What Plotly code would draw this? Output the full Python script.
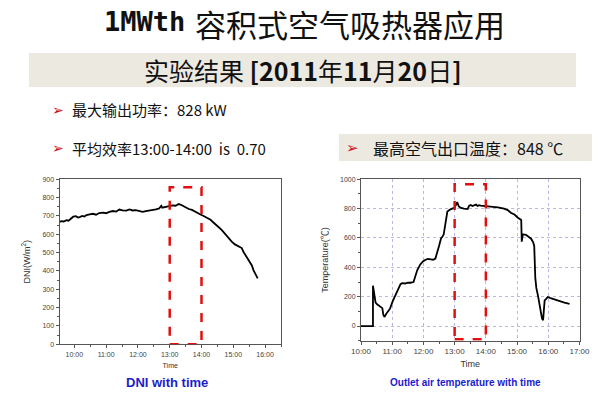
import plotly.graph_objects as go

DAY = "2011-11-20 "

# ---------------- Data ----------------
dni_times = ["09:32", "09:36", "09:40", "09:45", "09:49", "09:53", "09:58", "10:03", "10:07", "10:10",
             "10:15", "10:19", "10:23", "10:29", "10:35", "10:41", "10:47", "10:54", "11:00", "11:06",
             "11:13", "11:19", "11:25", "11:31", "11:38", "11:44", "11:50", "11:56", "12:02", "12:09",
             "12:15", "12:21", "12:27", "12:34", "12:40", "12:44", "12:46", "12:51", "12:56", "13:01",
             "13:05", "13:11", "13:17", "13:22", "13:27", "13:32", "13:36", "13:42", "13:49", "13:54",
             "13:58", "14:04", "14:11", "14:17", "14:23", "14:28", "14:32", "14:38", "14:45", "14:51",
             "14:57", "15:03", "15:10", "15:13", "15:16", "15:19", "15:22", "15:26", "15:30", "15:35",
             "15:38", "15:41", "15:44", "15:46"]
dni_values = [668, 672, 670, 677, 674, 683, 696, 699, 692, 694,
              700, 697, 705, 709, 712, 707, 716, 718, 715, 722,
              727, 724, 735, 731, 729, 736, 730, 732, 728, 722,
              726, 728, 733, 736, 741, 755, 745, 748, 750, 754,
              758, 756, 765, 760, 752, 747, 738, 733, 724, 716,
              708, 700, 690, 679, 663, 652, 640, 624, 600, 583,
              560, 545, 532, 528, 525, 505, 490, 470, 450, 430,
              405, 385, 372, 360]

temp_times = ["10:00", "10:23", "10:23", "10:25", "10:28", "10:31", "10:34", "10:38", "10:41", "10:43",
              "10:45", "10:48", "10:52", "10:56", "11:01", "11:06", "11:09", "11:12", "11:16", "11:19",
              "11:25", "11:30", "11:35", "11:41", "11:44", "11:48", "11:54", "11:59", "12:04", "12:09",
              "12:14", "12:19", "12:23", "12:27", "12:30", "12:34", "12:36", "12:39", "12:43", "12:46",
              "12:52", "12:56", "13:00", "13:03", "13:05", "13:08", "13:12", "13:18", "13:25", "13:28",
              "13:31", "13:34", "13:37", "13:41", "13:44", "13:47", "13:50", "13:56", "14:03", "14:13",
              "14:23", "14:35", "14:42", "14:48", "14:55", "15:01", "15:06", "15:08", "15:09", "15:11",
              "15:17", "15:22", "15:27", "15:31", "15:33", "15:35", "15:37", "15:40", "15:43", "15:46",
              "15:48", "15:50", "15:52", "15:53", "15:56", "15:59", "16:03", "16:06", "16:12", "16:19",
              "16:25", "16:31", "16:37", "16:41"]
temp_values = [0, 0, 275, 220, 160, 148, 140, 128, 122, 75,
               62, 80, 105, 120, 170, 210, 235, 262, 285, 292,
               290, 296, 295, 300, 330, 380, 420, 440, 452, 458,
               455, 452, 460, 520, 545, 600, 605, 625, 700, 780,
               795, 800, 808, 830, 845, 815, 805, 800, 798, 820,
               825, 818, 822, 828, 818, 824, 820, 818, 815, 812,
               808, 800, 790, 772, 760, 740, 725, 722, 575, 625,
               622, 610, 595, 570, 545, 330, 260, 210, 140, 80,
               50, 40, 120, 175, 185, 198, 192, 188, 180, 172,
               166, 160, 155, 150]

box_start, box_end = "13:00", "14:00"
dni_box_top = 856
temp_box_bottom, temp_box_top = -90, 966

dni_ticks = ["10:00", "11:00", "12:00", "13:00", "14:00", "15:00", "16:00"]
temp_ticks = ["10:00", "11:00", "12:00", "13:00", "14:00", "15:00", "16:00", "17:00"]

W, H = 600, 393


def px(x):
    return x / W


def py(y):
    return 1 - y / H


def ts(t):
    return [DAY + v for v in t]


FONT = "Liberation Sans, Arial, Noto Sans CJK SC, sans-serif"
CJK = "Noto Sans CJK SC, Liberation Sans, sans-serif"

fig = go.Figure()
fig.add_trace(go.Scatter(x=ts(dni_times), y=dni_values, mode="lines",
                         line=dict(color="black", width=1.8),
                         xaxis="x", yaxis="y", showlegend=False))
fig.add_trace(go.Scatter(x=ts(temp_times), y=temp_values, mode="lines",
                         line=dict(color="black", width=1.8),
                         xaxis="x2", yaxis="y2", showlegend=False))

axis_common = dict(showline=True, linecolor="#555", linewidth=1, mirror=True,
                   ticks="outside", ticklen=3, tickcolor="#555", automargin=False,
                   zeroline=False)

fig.update_layout(
    width=W, height=H, margin=dict(l=0, r=0, t=0, b=0, autoexpand=False),
    paper_bgcolor="white", plot_bgcolor="white",
    xaxis=dict(domain=[px(59.5), px(281)], type="date",
               range=[DAY + "09:32", DAY + "16:30"],
               tickvals=ts(dni_ticks), ticktext=dni_ticks, showgrid=False,
               tickfont=dict(family=FONT, size=7, color="#444"),
               minor=dict(ticks="outside", ticklen=2, tickcolor="#555", dtick=1800000),
               title=dict(text="Time", font=dict(family=FONT, size=7, color="#333"), standoff=6),
               anchor="y", **axis_common),
    yaxis=dict(domain=[py(344.3), py(179.3)], range=[0, 900], dtick=100, showgrid=False,
               tickfont=dict(family=FONT, size=7, color="#444"),
               minor=dict(ticks="outside", ticklen=2, tickcolor="#555", dtick=50),
               title=dict(text="DNI(W/m<sup>2</sup>)", font=dict(family=FONT, size=9, color="#333"), standoff=10),
               anchor="x", **axis_common),
    xaxis2=dict(domain=[px(361), px(579.5)], type="date",
                range=[DAY + "10:00", DAY + "17:00"],
                tickvals=ts(temp_ticks), ticktext=temp_ticks,
                showgrid=True, gridcolor="#b8b8e6", griddash="dot", gridwidth=1,
                tickfont=dict(family=FONT, size=8, color="#444"),
                minor=dict(ticks="outside", ticklen=2, tickcolor="#555", dtick=1800000),
                title=dict(text="Time", font=dict(family=FONT, size=9, color="#333"), standoff=5),
                anchor="y2", **axis_common),
    yaxis2=dict(domain=[py(340.7), py(179.3)], range=[-100, 1000], tickvals=[0, 200, 400, 600, 800, 1000],
                showgrid=True, gridcolor="#b8b8e6", griddash="dot", gridwidth=1,
                tickfont=dict(family=FONT, size=7, color="#444"),
                minor=dict(ticks="outside", ticklen=2, tickcolor="#555", dtick=100),
                title=dict(text="Temperature(℃)", font=dict(family=FONT, size=9, color="#333"), standoff=9),
                anchor="x2", **axis_common),
)

shapes = [
    # subtitle band
    dict(type="rect", xref="paper", yref="paper", x0=px(29), x1=px(576), y0=py(87), y1=py(53),
         fillcolor="#ece9e1", line=dict(width=0), layer="below"),
    # right bullet band
    dict(type="rect", xref="paper", yref="paper", x0=px(339), x1=px(592), y0=py(161), y1=py(134),
         fillcolor="#ece9e1", line=dict(width=0), layer="below"),
    # red dashed boxes
    dict(type="rect", xref="x", yref="y", x0=DAY + box_start, x1=DAY + box_end, y0=0, y1=dni_box_top,
         line=dict(color="#e01010", width=2.5, dash="dash")),
    dict(type="rect", xref="x2", yref="y2", x0=DAY + box_start, x1=DAY + box_end,
         y0=temp_box_bottom, y1=temp_box_top,
         line=dict(color="#e01010", width=2.5, dash="dash")),
]
fig.update_layout(shapes=shapes)


def ann(text, x, y, size, family=CJK, color="#111", xanchor="left", yanchor="middle", **kw):
    fig.add_annotation(text=text, x=px(x), y=py(y), xref="paper", yref="paper",
                       showarrow=False, xanchor=xanchor, yanchor=yanchor, borderpad=0,
                       font=dict(family=family, size=size, color=color), **kw)


# Title
ann("<b>1MWth</b>", 186, 22, 27, family="DejaVu Sans Mono, monospace", xanchor="right")
ann("容积式空气吸热器应用", 194, 23, 31)
# Subtitle
ann("实验结果 <b>[2011</b>年<b>11</b>月<b>20</b>日<b>]</b>", 302.5, 70, 25, xanchor="center")
# bullets
ann("➢", 51, 110, 14, family="DejaVu Sans", color="#d0101a")
ann("最大输出功率：828 kW", 71, 110, 15, family=CJK)
ann("➢", 51, 148, 14, family="DejaVu Sans", color="#d0101a")
ann("平均效率13:00-14:00  is  0.70", 71, 148, 15, family=CJK)
ann("➢", 345, 148, 15, family="DejaVu Sans", color="#d0101a")
ann("最高空气出口温度：848 ℃", 372, 148, 16, family=CJK)
# captions
ann("<b>DNI with time</b>", 167, 382, 13, family=FONT, color="#1c1ccc", xanchor="center")
ann("<b>Outlet air temperature with time</b>", 465.5, 382, 10, family=FONT, color="#1c1ccc", xanchor="center")

fig.write_html("out.html", config={"displayModeBar": False},
               post_script="document.body.style.margin='0';document.body.style.overflow='hidden';")
